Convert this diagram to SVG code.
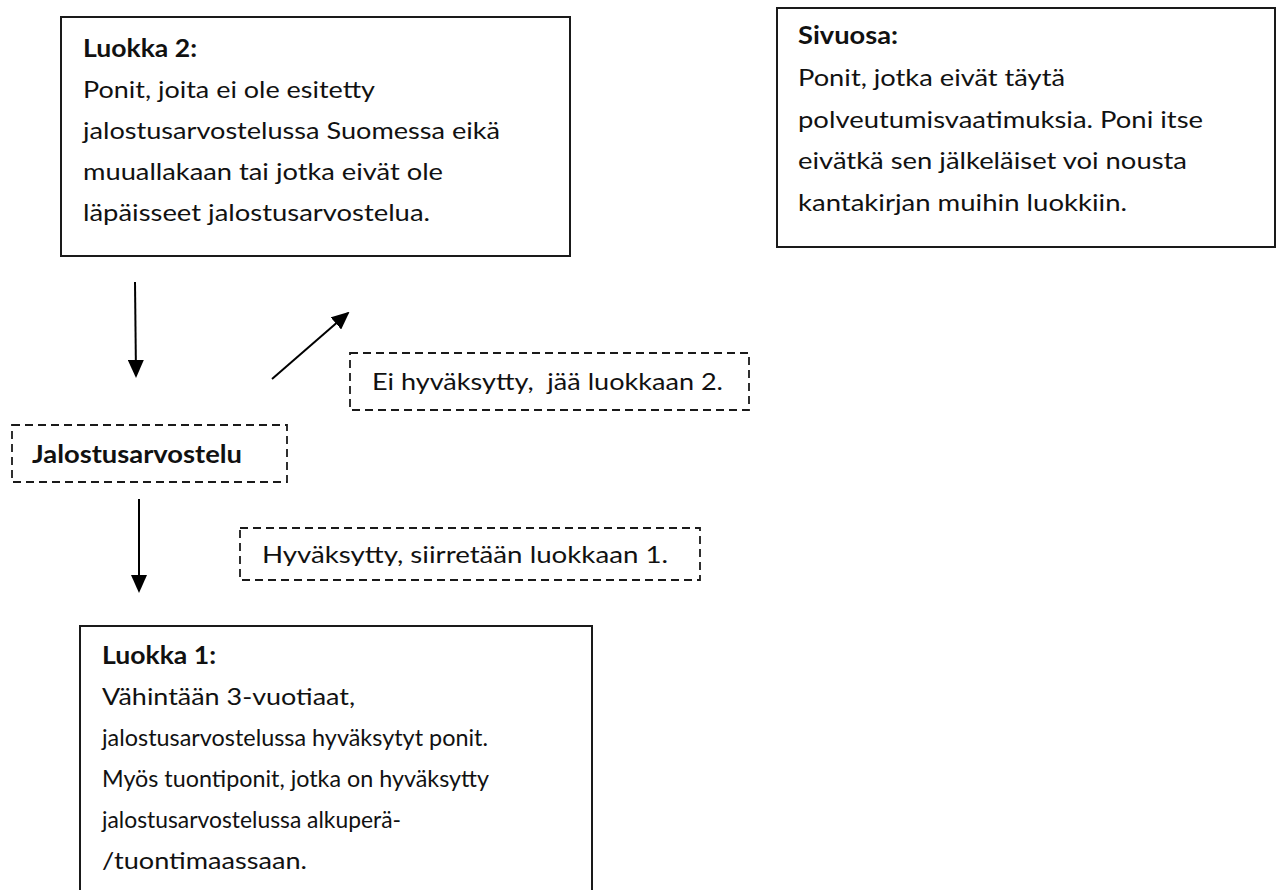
<svg xmlns="http://www.w3.org/2000/svg" width="1277" height="890" viewBox="0 0 1277 890">
<style>
.box{fill:#fff;stroke:#1a1a1a;stroke-width:2}
.dbox{fill:#fff;stroke:#1a1a1a;stroke-width:1.8;stroke-dasharray:8 5}
.t{font-family:Lato,"Open Sans","Liberation Sans",sans-serif;font-size:24px;fill:#111}
.s{font-size:23px}
.b{font-weight:bold}
.conn{stroke:#000;stroke-width:2;fill:none}
</style>
<defs>
<marker id="ah" markerUnits="userSpaceOnUse" markerWidth="18" markerHeight="16" viewBox="0 0 18 16" refX="16" refY="8" orient="auto">
<path d="M0,0 L18,8 L0,16 z" fill="#000"/>
</marker>
<clipPath id="clipH"><rect x="241" y="529" width="458" height="37"/></clipPath>
</defs>
<rect width="1277" height="890" fill="#fff"/>

<g id="luokka2">
<rect class="box" x="61" y="17" width="509" height="239"/>
<text class="t b" x="83" y="57" textLength="114" lengthAdjust="spacingAndGlyphs">Luokka 2:</text>
<text class="t" x="83" y="98" textLength="292" lengthAdjust="spacingAndGlyphs">Ponit, joita ei ole esitetty</text>
<text class="t" x="83" y="139" textLength="417" lengthAdjust="spacingAndGlyphs">jalostusarvostelussa Suomessa eikä</text>
<text class="t" x="83" y="180" textLength="360" lengthAdjust="spacingAndGlyphs">muuallakaan tai jotka eivät ole</text>
<text class="t" x="83" y="221" textLength="347" lengthAdjust="spacingAndGlyphs">läpäisseet jalostusarvostelua.</text>
</g>

<g id="sivuosa">
<rect class="box" x="777" y="8" width="498" height="239"/>
<text class="t b" x="798" y="44" textLength="100" lengthAdjust="spacingAndGlyphs">Sivuosa:</text>
<text class="t" x="798" y="86" textLength="267" lengthAdjust="spacingAndGlyphs">Ponit, jotka eivät täytä</text>
<text class="t" x="798" y="128" textLength="405" lengthAdjust="spacingAndGlyphs">polveutumisvaatimuksia. Poni itse</text>
<text class="t" x="798" y="169" textLength="389" lengthAdjust="spacingAndGlyphs">eivätkä sen jälkeläiset voi nousta</text>
<text class="t" x="798" y="211" textLength="329" lengthAdjust="spacingAndGlyphs">kantakirjan muihin luokkiin.</text>
</g>

<g id="ei-hyvaksytty">
<rect class="dbox" x="350" y="353" width="399" height="57"/>
<text class="t" x="372" y="390" textLength="351" lengthAdjust="spacingAndGlyphs" xml:space="preserve">Ei hyväksytty,  jää luokkaan 2.</text>
</g>

<g id="jalostusarvostelu">
<rect class="dbox" x="12" y="425" width="275" height="57"/>
<text class="t b" x="32" y="463" textLength="210" lengthAdjust="spacingAndGlyphs">Jalostusarvostelu</text>
</g>

<g id="hyvaksytty">
<rect class="dbox" x="240" y="528" width="460" height="52"/>
<text class="t" x="262" y="563" textLength="406" lengthAdjust="spacingAndGlyphs" clip-path="url(#clipH)">Hyväksytty, siirretään luokkaan 1.</text>
</g>

<g id="luokka1">
<rect class="box" x="80" y="626" width="512" height="280"/>
<text class="t b" x="102" y="664" textLength="114" lengthAdjust="spacingAndGlyphs">Luokka 1:</text>
<text class="t s" x="102" y="705" textLength="253" lengthAdjust="spacingAndGlyphs">Vähintään 3-vuotiaat,</text>
<text class="t s" x="102" y="746" textLength="386" lengthAdjust="spacingAndGlyphs">jalostusarvostelussa hyväksytyt ponit.</text>
<text class="t s" x="102" y="787" textLength="387" lengthAdjust="spacingAndGlyphs">Myös tuontiponit, jotka on hyväksytty</text>
<text class="t s" x="102" y="828" textLength="299" lengthAdjust="spacingAndGlyphs">jalostusarvostelussa alkuperä-</text>
<text class="t s" x="102" y="869" textLength="205" lengthAdjust="spacingAndGlyphs">/tuontimaassaan.</text>
</g>

<g id="connectors">
<line class="conn" x1="135" y1="282" x2="136" y2="376" marker-end="url(#ah)"/>
<line class="conn" x1="272" y1="379" x2="348" y2="313" marker-end="url(#ah)"/>
<line class="conn" x1="139" y1="499" x2="139" y2="591" marker-end="url(#ah)"/>
</g>
</svg>
